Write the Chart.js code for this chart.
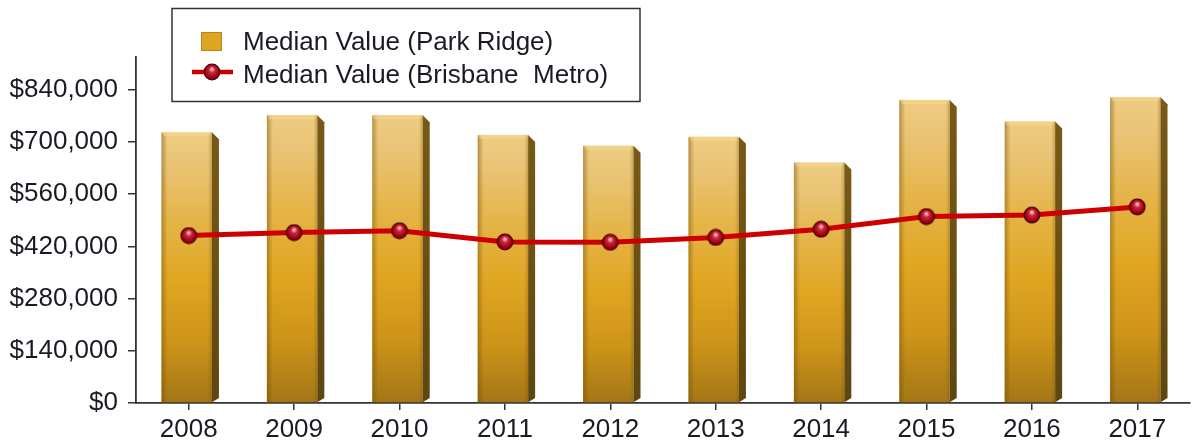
<!DOCTYPE html>
<html>
<head>
<meta charset="utf-8">
<script src="https://cdn.jsdelivr.net/npm/chart.js@4.4.1/dist/chart.umd.min.js"></script>
<style>
html,body{margin:0;padding:0;background:#fff;overflow:hidden;}
#wrap{width:1204px;height:441px;}
</style>
</head>
<body>
<div id="wrap"><canvas id="c" width="1204" height="441"></canvas></div>
<script>
const categories = ['2008','2009','2010','2011','2012','2013','2014','2015','2016','2017'];
const parkRidge = [726000, 772000, 772000, 719000, 690000, 714000, 645000, 813000, 755000, 820000];
const brisbaneMetro = [449000, 457000, 462000, 432000, 431000, 444000, 466000, 500000, 504000, 526000];
const yTickValues = [0, 140000, 280000, 420000, 560000, 700000, 840000];
const seriesLabels = ['Median Value (Park Ridge)', 'Median Value (Brisbane  Metro)'];

const FONT = '"Liberation Sans", Arial, sans-serif';
const TXT = '#1a1a24';

function makeMarker(){
  const c = document.createElement('canvas');
  c.width = 18; c.height = 18;
  const g = c.getContext('2d');
  const rg = g.createRadialGradient(9, 6, 1, 9, 9, 9);
  rg.addColorStop(0, '#f2b5b5');
  rg.addColorStop(0.25, '#c8283a');
  rg.addColorStop(0.7, '#a00010');
  rg.addColorStop(1, '#6a0008');
  g.beginPath(); g.arc(9, 9, 7.8, 0, Math.PI*2);
  g.fillStyle = rg; g.fill();
  g.lineWidth = 1.2; g.strokeStyle = '#4a0006'; g.stroke();
  return c;
}
const marker = makeMarker();

const bar3d = {
  id: 'bar3d',
  beforeDatasetDraw(chart, args){
    if (args.index !== 0) return;
    const ctx = chart.ctx;
    const meta = args.meta;
    ctx.save();
    meta.data.forEach(el => {
      const p = el.getProps(['x','y','base','width'], true);
      const shift = 1.5;
      const L = p.x - p.width/2 + shift;
      const R = p.x + p.width/2 + shift;
      const s = 7;
      const top = p.y, base = p.base;
      const FR = R - s;
      const g = ctx.createLinearGradient(0, top, 0, base);
      g.addColorStop(0, '#edcc82');
      g.addColorStop(0.12, '#eac475');
      g.addColorStop(0.32, '#e5b54a');
      g.addColorStop(0.55, '#e0a622');
      g.addColorStop(0.78, '#cd9419');
      g.addColorStop(1, '#a47616');
      ctx.fillStyle = g;
      ctx.fillRect(L, top, FR - L, base - top);
      const lg = ctx.createLinearGradient(L, 0, L + 6, 0);
      lg.addColorStop(0, 'rgba(110,75,5,0.45)');
      lg.addColorStop(1, 'rgba(110,75,5,0)');
      ctx.fillStyle = lg;
      ctx.fillRect(L, top, 6, base - top);
      const rg = ctx.createLinearGradient(FR - 4, 0, FR, 0);
      rg.addColorStop(0, 'rgba(110,75,5,0)');
      rg.addColorStop(1, 'rgba(110,75,5,0.3)');
      ctx.fillStyle = rg;
      ctx.fillRect(FR - 4, top, 4, base - top);
      // subtle top bevel
      ctx.beginPath();
      ctx.moveTo(L, top); ctx.lineTo(FR, top); ctx.lineTo(FR - 3, top + 4); ctx.lineTo(L + 3, top + 4); ctx.closePath();
      ctx.fillStyle = 'rgba(245,215,140,0.6)';
      ctx.fill();
      // side face
      const sg = ctx.createLinearGradient(0, top, 0, base);
      sg.addColorStop(0, '#785a15');
      sg.addColorStop(1, '#5e4610');
      ctx.beginPath();
      ctx.moveTo(FR, top); ctx.lineTo(R, top + s); ctx.lineTo(R, base - s*0.6); ctx.lineTo(FR, base); ctx.closePath();
      ctx.fillStyle = sg; ctx.fill();
    });
    ctx.restore();
    return false;
  }
};

const legendBox = {
  id: 'legendBox',
  afterDraw(chart){
    const ctx = chart.ctx;
    ctx.save();
    ctx.fillStyle = '#fff';
    ctx.fillRect(172, 8.5, 468, 93);
    ctx.strokeStyle = '#333'; ctx.lineWidth = 1.5;
    ctx.strokeRect(172, 8.5, 468, 93);
    ctx.fillStyle = '#e0a520';
    ctx.fillRect(201.5, 32.5, 20, 18);
    ctx.strokeStyle = '#b8861c'; ctx.lineWidth = 1;
    ctx.strokeRect(201.5, 32.5, 20, 18);
    ctx.beginPath(); ctx.moveTo(192, 72); ctx.lineTo(233, 72);
    ctx.strokeStyle = '#cc0000'; ctx.lineWidth = 4.5; ctx.stroke();
    ctx.drawImage(marker, 212 - 9, 72 - 9);
    ctx.fillStyle = TXT;
    ctx.font = '26px ' + FONT;
    ctx.textBaseline = 'alphabetic';
    ctx.fillText(chart.data.datasets[0].label, 243, 50);
    ctx.fillText(chart.data.datasets[1].label, 243, 82.5);
    ctx.restore();
  }
};

new Chart(document.getElementById('c'), {
  data: {
    labels: categories,
    datasets: [
      { type: 'bar', label: seriesLabels[0], data: parkRidge, backgroundColor: '#e0a520',
        barPercentage: 1, categoryPercentage: 0.545, order: 2 },
      { type: 'line', label: seriesLabels[1], data: brisbaneMetro, borderColor: '#cc0000',
        borderWidth: 5, tension: 0, pointStyle: marker, pointRadius: 9, order: 1 }
    ]
  },
  options: {
    responsive: false,
    animation: false,
    devicePixelRatio: 1,
    layout: { padding: { top: 57, right: 1, left: 0, bottom: 0 } },
    plugins: { legend: { display: false }, tooltip: { enabled: false } },
    scales: {
      x: {
        grid: { offset: false, drawOnChartArea: false, drawTicks: true, tickLength: 7, color: '#333', lineWidth: 1.5 },
        border: { display: true, color: '#333', width: 1.8 },
        ticks: { color: TXT, font: { family: FONT, size: 26 }, padding: 4, maxRotation: 0 },
        afterFit(scale){ scale.height = 38; }
      },
      y: {
        min: 0, max: 928000,
        grid: { drawOnChartArea: false, drawTicks: true, tickLength: 8, color: '#333', lineWidth: 1.5 },
        border: { display: true, color: '#333', width: 1.8 },
        ticks: { color: TXT, font: { family: FONT, size: 26 }, padding: 10,
          callback: v => '$' + Number(v).toLocaleString('en-US') },
        afterBuildTicks(scale){ scale.ticks = yTickValues.map(v => ({ value: v })); },
        afterFit(scale){ scale.width = 136; }
      }
    }
  },
  plugins: [bar3d, legendBox]
});
</script>
</body>
</html>
